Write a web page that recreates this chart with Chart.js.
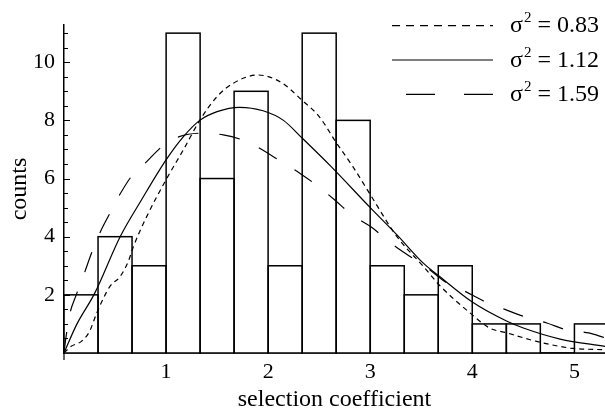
<!doctype html>
<html>
<head>
<meta charset="utf-8" />
<style>
  body { margin: 0; background: #fff; }
  #c { display: block; }
</style>
</head>
<body>
<canvas id="c" width="605" height="414"></canvas>
<script src="https://cdn.jsdelivr.net/npm/chart.js@4/dist/chart.umd.min.js"></script>
<script>
// histogram bins (centre of each 1/3 wide bin) and counts
const binCenters = [0.167, 0.5, 0.833, 1.167, 1.5, 1.833, 2.167, 2.5, 2.833, 3.167, 3.5, 3.833, 4.167, 4.5, 4.833, 5.167];
const binCounts = [2, 4, 3, 11, 6, 9, 3, 11, 8, 3, 2, 3, 1, 1, 0, 1];

// fitted curves
const fit083X = [0, 0.07, 0.17, 0.25, 0.32, 0.45, 0.55, 0.63, 0.68, 0.81, 1.0, 1.17, 1.33, 1.5, 1.66, 1.9, 2.13, 2.33, 2.5, 2.67, 2.83, 3.0, 3.26, 3.52, 3.69, 3.98, 4.17, 4.34, 4.63, 4.96, 5.3];
const fit083Y = [0, 0.23, 0.4, 0.74, 1.37, 2.29, 2.63, 3.15, 3.66, 4.69, 5.96, 6.99, 8.0, 8.82, 9.28, 9.56, 9.3, 8.7, 8.13, 7.22, 6.41, 5.45, 4.01, 2.98, 2.29, 1.37, 0.86, 0.69, 0.4, 0.17, 0.11];

const fit112X = [0, 0.12, 0.3, 0.55, 0.76, 1.0, 1.17, 1.33, 1.5, 1.72, 1.95, 2.15, 2.33, 2.62, 3.0, 3.26, 3.52, 3.68, 4.0, 4.34, 4.5, 4.86, 5.3];
const fit112Y = [0, 0.95, 2.05, 4.0, 5.27, 6.64, 7.44, 8.0, 8.3, 8.45, 8.33, 8.0, 7.4, 6.4, 5.0, 4.07, 3.09, 2.63, 1.75, 1.09, 0.86, 0.48, 0.23];

const fit159X = [0, 0.016, 0.055, 0.12, 0.2, 0.27, 0.35, 0.45, 0.545, 0.66, 0.81, 0.96, 1.13, 1.36, 1.56, 1.79, 1.97, 2.15, 2.32, 2.49, 2.65, 2.82, 3.01, 3.18, 3.26, 3.39, 3.56, 3.73, 3.93, 4.12, 4.32, 4.51, 4.73, 4.92, 5.14, 5.3];
const fit159Y = [0, 0.46, 1.32, 2.0, 2.75, 3.44, 4.12, 4.81, 5.44, 6.07, 6.58, 7.1, 7.44, 7.56, 7.5, 7.27, 6.93, 6.53, 6.16, 5.73, 5.27, 4.75, 4.33, 3.84, 3.63, 3.32, 2.92, 2.46, 2.12, 1.77, 1.5, 1.25, 1.03, 0.8, 0.69, 0.52];

const xTicks = [1, 2, 3, 4, 5];
const yTicks = [2, 4, 6, 8, 10];
const legendLabels = ["0.83", "1.12", "1.59"];

const FONT = "'Liberation Serif', 'Times New Roman', serif";

function pts(xs, ys) {
  return xs.map((x, i) => ({ x: x, y: ys[i] }));
}

// outline the bars with single lines (shared edges don't double up)
const barOutline = {
  id: "barOutline",
  afterDatasetDraw(chart, args) {
    if (args.meta.type !== "bar") return;
    const ctx = chart.ctx;
    ctx.save();
    ctx.strokeStyle = "#000";
    ctx.lineWidth = 1.5;
    args.meta.data.forEach((el) => {
      const p = el.getProps(["x", "y", "base", "width"], true);
      ctx.strokeRect(p.x - p.width / 2, p.y, p.width, p.base - p.y);
    });
    ctx.restore();
  },
};

// inward y ticks, little axis stub and the legend
const decor = {
  id: "decor",
  afterDraw(chart) {
    const ctx = chart.ctx;
    const ys = chart.scales.y;
    const area = chart.chartArea;
    ctx.save();
    ctx.strokeStyle = "#000";
    ctx.lineWidth = 1.2;
    ctx.beginPath();
    for (let v = 0.5; v <= 11.01; v += 0.5) {
      const py = Math.round(ys.getPixelForValue(v)) + 0.5;
      const len = v % 2 === 0 ? 6 : 4;
      ctx.moveTo(area.left, py);
      ctx.lineTo(area.left + len, py);
    }
    ctx.moveTo(area.left, area.bottom);
    ctx.lineTo(area.left, area.bottom + 7);
    ctx.stroke();

    const dashes = [[8, 6], [], [29, 29]];
    const lineY = [25.7, 60, 94.3];
    const lineX0 = [392, 392, 406];
    ctx.fillStyle = "#000";
    ctx.textBaseline = "alphabetic";
    legendLabels.forEach((lab, i) => {
      ctx.beginPath();
      ctx.setLineDash(dashes[i]);
      ctx.moveTo(lineX0[i], lineY[i]);
      ctx.lineTo(493, lineY[i]);
      ctx.stroke();
      ctx.setLineDash([]);
      const base = lineY[i] + 6.5;
      let x = 510;
      ctx.font = "24px " + FONT;
      ctx.fillText("σ", x, base);
      x += ctx.measureText("σ").width + 1;
      ctx.font = "15px " + FONT;
      ctx.fillText("2", x, base - 10);
      x += ctx.measureText("2").width;
      ctx.font = "24px " + FONT;
      ctx.fillText(" = " + lab, x, base);
    });
    ctx.restore();
  },
};

new Chart(document.getElementById("c"), {
  type: "bar",
  data: {
    datasets: [
      {
        type: "bar",
        data: pts(binCenters, binCounts),
        backgroundColor: "#fff",
        borderWidth: 0,
        barPercentage: 1,
        categoryPercentage: 1,
        order: 1,
      },
      {
        type: "line",
        data: pts(fit083X, fit083Y),
        borderColor: "#000",
        borderWidth: 1.2,
        borderDash: [5, 4],
        pointRadius: 0,
        fill: false,
        cubicInterpolationMode: "monotone",
        order: 0,
      },
      {
        type: "line",
        data: pts(fit112X, fit112Y),
        borderColor: "#000",
        borderWidth: 1.2,
        pointRadius: 0,
        fill: false,
        cubicInterpolationMode: "monotone",
        order: 0,
      },
      {
        type: "line",
        data: pts(fit159X, fit159Y),
        borderColor: "#000",
        borderWidth: 1.2,
        borderDash: [21, 21],
        pointRadius: 0,
        fill: false,
        cubicInterpolationMode: "monotone",
        order: 0,
      },
    ],
  },
  options: {
    responsive: false,
    animation: false,
    devicePixelRatio: 1,
    layout: { padding: { top: 25, right: 0, left: 0, bottom: 0 } },
    plugins: { legend: { display: false }, tooltip: { enabled: false } },
    scales: {
      x: {
        type: "linear",
        min: 0,
        max: 5.3,
        offset: false,
        grid: { display: false, drawTicks: false, offset: false },
        border: { display: true, color: "#000", width: 1.5 },
        afterBuildTicks: (s) => { s.ticks = xTicks.map((v) => ({ value: v })); },
        afterFit: (s) => { s.height = 61; },
        ticks: { color: "#000", padding: 6, maxRotation: 0, autoSkip: false, font: { family: FONT, size: 22 } },
        title: {
          display: true,
          text: "selection coefficient",
          color: "#000",
          font: { family: FONT, size: 24 },
          padding: { top: 0, bottom: 0 },
        },
      },
      y: {
        min: 0,
        max: 11.28,
        grid: { display: false, drawTicks: false },
        border: { display: true, color: "#000", width: 1.5 },
        afterBuildTicks: (s) => { s.ticks = yTicks.map((v) => ({ value: v })); },
        afterFit: (s) => { s.width = 64; },
        ticks: { color: "#000", padding: 9, font: { family: FONT, size: 22 } },
        title: {
          display: true,
          text: "counts",
          color: "#000",
          font: { family: FONT, size: 24 },
          padding: { top: 5, bottom: 0 },
        },
      },
    },
  },
  plugins: [barOutline, decor],
});
</script>
</body>
</html>
